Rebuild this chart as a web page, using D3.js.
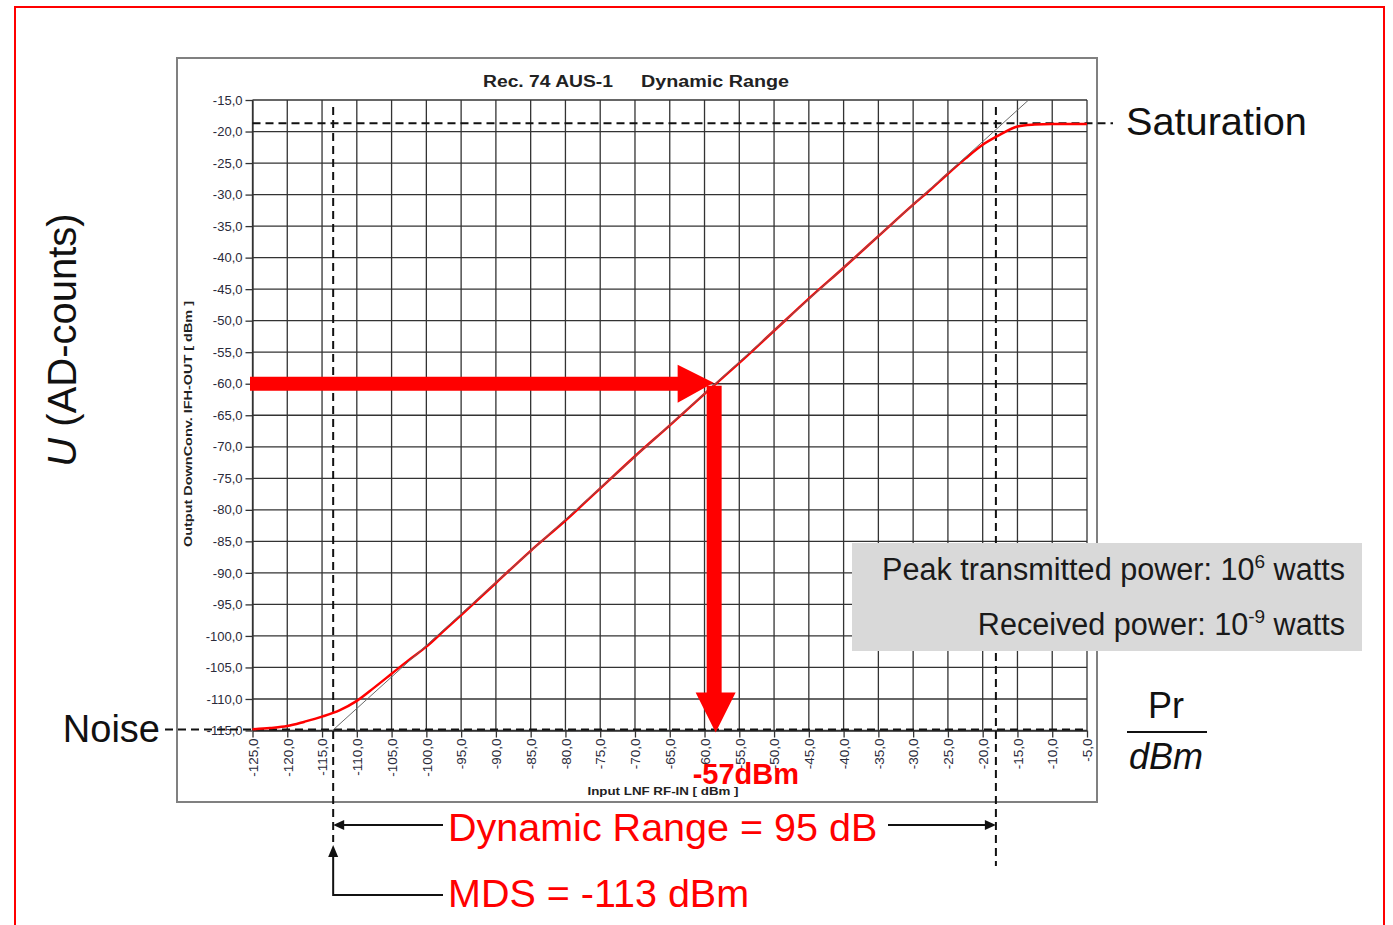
<!DOCTYPE html>
<html><head><meta charset="utf-8">
<script src="https://cdn.jsdelivr.net/npm/d3@7"></script>
<style>
body{margin:0;background:#fff;}
svg{display:block;font-family:"Liberation Sans",Arial,sans-serif;}
</style>
</head><body>
<svg id="chart" width="1393" height="925"></svg>
<script>
// ---- data ----
const xTickValues = [-125,-120,-115,-110,-105,-100,-95,-90,-85,-80,-75,-70,-65,-60,-55,-50,-45,-40,-35,-30,-25,-20,-15,-10,-5];
const yTickValues = [-15,-20,-25,-30,-35,-40,-45,-50,-55,-60,-65,-70,-75,-80,-85,-90,-95,-100,-105,-110,-115];
const inputDbm  = [-125,-122.5,-120,-117.5,-115,-112.5,-110,-107.5,-105,-102.5,-100,-97.5,-95,-90,-85,-80,-75,-70,-65,-60,-55,-50,-45,-40,-35,-30,-27.5,-25,-22.5,-20,-17.5,-15,-12.5,-10,-7.5,-5];
const outputDbm = [-114.8,-114.6,-114.3,-113.6,-112.8,-111.8,-110.3,-108.2,-106.0,-103.8,-101.7,-99.2,-96.7,-91.6,-86.5,-81.7,-76.6,-71.5,-66.6,-61.6,-56.7,-51.6,-46.5,-41.6,-36.6,-31.6,-29.2,-26.7,-24.3,-22.1,-20.5,-19.2,-18.9,-18.8,-18.8,-18.8];
const idealInput  = [-113.5,-13.4];
const idealOutput = [-115,-15];
const saturationOutput = -18.7;
const noiseOutput = -115;
const mdsInput = -113.4;
const saturationInput = -18.1;
const markerInput = -58.4;
const markerOutput = -60;
const titleParts = ["Rec. 74 AUS-1","Dynamic Range"];

// ---- layout ----
const svg = d3.select("#chart");
const x = d3.scaleLinear().domain([-125,-5]).range([252.5,1087]);
const y = d3.scaleLinear().domain([-15,-115]).range([100,730.5]);
const fmt = d => d.toFixed(1).replace(".", ",");
const RED = "#ff0000";

// outer red border
svg.append("rect").attr("x",15).attr("y",7).attr("width",1369).attr("height",940)
  .attr("fill","none").attr("stroke",RED).attr("stroke-width",2);

// chart frame
svg.append("rect").attr("x",177).attr("y",58).attr("width",920).attr("height",744)
  .attr("fill","#fff").attr("stroke","#808080").attr("stroke-width",2);

// gridlines
const grid = svg.append("g").attr("stroke","#333").attr("stroke-width",1.3);
grid.selectAll("line.v").data(xTickValues).join("line").attr("class","v")
  .attr("x1",d=>x(d)).attr("x2",d=>x(d)).attr("y1",y(-15)).attr("y2",y(-115));
grid.selectAll("line.h").data(yTickValues).join("line").attr("class","h")
  .attr("x1",x(-125)).attr("x2",x(-5)).attr("y1",d=>y(d)).attr("y2",d=>y(d));

// axes
const yAxis = svg.append("g").attr("transform",`translate(${x(-125)},0)`)
  .call(d3.axisLeft(y).tickValues(yTickValues).tickFormat(fmt).tickSizeInner(7).tickSizeOuter(0).tickPadding(3));
yAxis.select(".domain").attr("stroke","#333").attr("stroke-width",1.3);
yAxis.selectAll(".tick line").attr("stroke","#333").attr("stroke-width",1.3);
yAxis.selectAll(".tick text").attr("font-size",13).attr("fill","#2a2a3a")
  .attr("font-family","'Liberation Sans',Arial,sans-serif");

const xAxis = svg.append("g").attr("transform",`translate(0,${y(-115)})`)
  .call(d3.axisBottom(x).tickValues(xTickValues).tickFormat(fmt).tickSizeInner(7).tickSizeOuter(0));
xAxis.select(".domain").attr("stroke","#333").attr("stroke-width",1.3);
xAxis.selectAll(".tick line").attr("stroke","#333").attr("stroke-width",1.3);
xAxis.selectAll(".tick text").attr("font-size",13.5).attr("fill","#2a2a3a")
  .attr("font-family","'Liberation Sans',Arial,sans-serif")
  .attr("transform","rotate(-90)").attr("text-anchor","end")
  .attr("x",-8).attr("y",0).attr("dy","0.35em");

// title and axis titles
svg.append("text").attr("x",483).attr("y",87).attr("font-size",16).attr("font-weight","bold")
  .attr("fill","#222").attr("textLength",130).attr("lengthAdjust","spacingAndGlyphs").text(titleParts[0]);
svg.append("text").attr("x",641).attr("y",87).attr("font-size",16).attr("font-weight","bold")
  .attr("fill","#222").attr("textLength",148).attr("lengthAdjust","spacingAndGlyphs").text(titleParts[1]);
svg.append("text").attr("transform","translate(192,424) rotate(-90)").attr("text-anchor","middle")
  .attr("font-size",11).attr("font-weight","bold").attr("fill","#222")
  .attr("textLength",246).attr("lengthAdjust","spacingAndGlyphs")
  .text("Output DownConv. IFH-OUT [ dBm ]");
svg.append("text").attr("x",663).attr("y",795).attr("text-anchor","middle")
  .attr("font-size",11).attr("font-weight","bold").attr("fill","#222")
  .attr("textLength",151).attr("lengthAdjust","spacingAndGlyphs")
  .text("Input LNF RF-IN [ dBm ]");

// dashed reference lines
const dash = svg.append("g").attr("stroke","#111").attr("stroke-width",2).attr("stroke-dasharray","8,5").attr("fill","none");
dash.append("line").attr("x1",x(-125)).attr("x2",1113).attr("y1",y(saturationOutput)).attr("y2",y(saturationOutput));
dash.append("line").attr("x1",165).attr("x2",x(-5)).attr("y1",y(noiseOutput)-1).attr("y2",y(noiseOutput)-1);
dash.append("line").attr("x1",x(mdsInput)).attr("x2",x(mdsInput)).attr("y1",107).attr("y2",842);
dash.append("line").attr("x1",x(saturationInput)).attr("x2",x(saturationInput)).attr("y1",107).attr("y2",866);

// measured curve and ideal line
const pts = inputDbm.map((v,i)=>[v,outputDbm[i]]);
svg.append("path").datum(pts).attr("fill","none").attr("stroke",RED).attr("stroke-width",2.5)
  .attr("d",d3.line().x(d=>x(d[0])).y(d=>y(d[1])).curve(d3.curveMonotoneX));
const ideal = idealInput.map((v,i)=>[v,idealOutput[i]]);
svg.append("path").datum(ideal).attr("fill","none").attr("stroke","#6a6a6a").attr("stroke-width",1)
  .attr("d",d3.line().x(d=>x(d[0])).y(d=>y(d[1])));

// big red arrows
const mx = x(markerInput), my = y(markerOutput);
svg.append("path").attr("fill",RED)
  .attr("d",`M250,${my-7} L${mx-38},${my-7} L${mx-38},${my-19} L${mx-2},${my-1} L${mx-38},${my+19} L${mx-38},${my+7} L250,${my+7} Z`);
const by = y(noiseOutput)+2;
svg.append("path").attr("fill",RED)
  .attr("d",`M${mx-9},${my+2} L${mx+6},${my+2} L${mx+6},${by-40} L${mx+20},${by-40} L${mx},${by} L${mx-20},${by-40} L${mx-9},${by-40} Z`);
svg.append("text").attr("x",mx-23).attr("y",y(noiseOutput)+53).attr("font-size",29).attr("font-weight","bold")
  .attr("fill",RED).text("-57dBm");

// side labels
svg.append("text").attr("x",1126).attr("y",135).attr("font-size",39.7).attr("fill","#111").text("Saturation");
svg.append("text").attr("x",160).attr("y",742).attr("text-anchor","end").attr("font-size",38).attr("fill","#111").text("Noise");
const ul = svg.append("text").attr("transform","translate(76,340) rotate(-90)").attr("text-anchor","middle")
  .attr("font-size",40).attr("fill","#111");
ul.append("tspan").attr("font-style","italic").text("U");
ul.append("tspan").text(" (AD-counts)");

// Pr / dBm
svg.append("text").attr("x",1166).attr("y",718).attr("text-anchor","middle").attr("font-size",36).attr("fill","#111").text("Pr");
svg.append("line").attr("x1",1127).attr("x2",1207).attr("y1",732).attr("y2",732).attr("stroke","#111").attr("stroke-width",2);
svg.append("text").attr("x",1166).attr("y",769).attr("text-anchor","middle").attr("font-size",36).attr("font-style","italic").attr("fill","#111").text("dBm");

// grey info box
svg.append("rect").attr("x",852).attr("y",543).attr("width",510).attr("height",108).attr("fill","#d9d9d9");
const t1 = svg.append("text").attr("x",1345).attr("y",580).attr("text-anchor","end").attr("font-size",30.6).attr("fill","#1a1a1a");
t1.append("tspan").text("Peak transmitted power: 10");
t1.append("tspan").attr("dy",-12).attr("font-size",19).text("6");
t1.append("tspan").attr("dy",12).text(" watts");
const t2 = svg.append("text").attr("x",1345).attr("y",635).attr("text-anchor","end").attr("font-size",30.6).attr("fill","#1a1a1a");
t2.append("tspan").text("Received power: 10");
t2.append("tspan").attr("dy",-12).attr("font-size",19).text("-9");
t2.append("tspan").attr("dy",12).text(" watts");

// dynamic range annotation
const blk = svg.append("g").attr("stroke","#111").attr("stroke-width",2).attr("fill","none");
const xl = x(mdsInput), xr = x(saturationInput);
blk.append("line").attr("x1",xl+8).attr("x2",443).attr("y1",825).attr("y2",825);
blk.append("line").attr("x1",888).attr("x2",xr-8).attr("y1",825).attr("y2",825);
blk.append("path").attr("d",`M${xl},857 L${xl},895 L443,895`);
const heads = svg.append("g").attr("fill","#111");
heads.append("path").attr("d",`M${xl},825 L${xl+11},820 L${xl+11},830 Z`);
heads.append("path").attr("d",`M${xr},825 L${xr-11},820 L${xr-11},830 Z`);
heads.append("path").attr("d",`M${xl},845 L${xl-5},857 L${xl+5},857 Z`);
svg.append("text").attr("x",448).attr("y",841).attr("font-size",39.5).attr("fill",RED).text("Dynamic Range = 95 dB");
svg.append("text").attr("x",448).attr("y",907).attr("font-size",39.5).attr("fill",RED).text("MDS = -113 dBm");
</script>
</body></html>
